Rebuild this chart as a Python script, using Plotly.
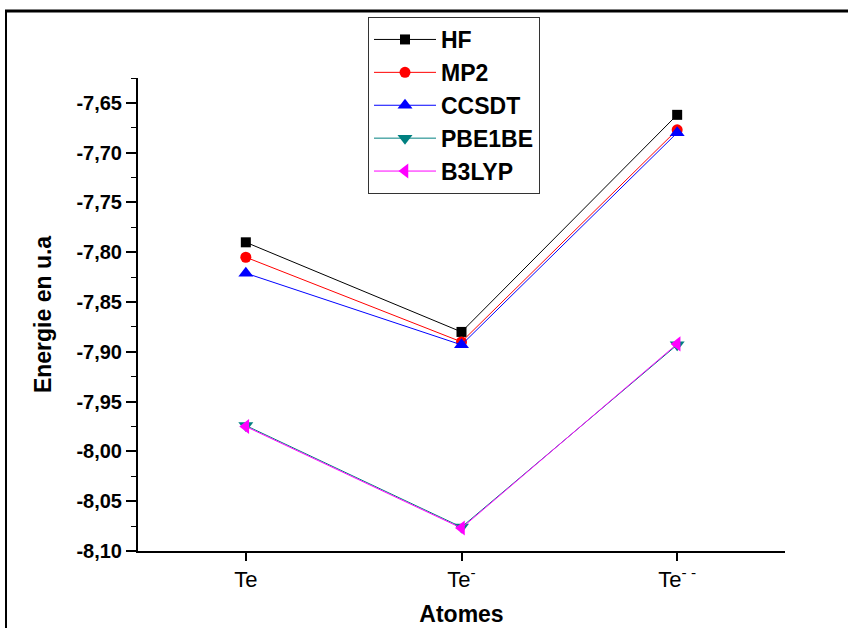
import plotly.graph_objects as go

categories = [1, 2, 3]
tick_labels = ["Te", "Te<sup>-</sup>", "Te<sup>- -</sup>"]
y_tick_vals = [-8.10, -8.05, -8.00, -7.95, -7.90, -7.85, -7.80, -7.75, -7.70, -7.65]
y_tick_labels = ["-8,10", "-8,05", "-8,00", "-7,95", "-7,90", "-7,85", "-7,80", "-7,75", "-7,70", "-7,65"]
series_names = ["HF", "MP2", "CCSDT", "PBE1BE", "B3LYP"]
hf = [-7.790, -7.880, -7.662]
mp2 = [-7.805, -7.890, -7.677]
ccsdt = [-7.821, -7.893, -7.680]
pbe1be = [-7.974, -8.076, -7.893]
b3lyp = [-7.975, -8.077, -7.892]

values = [hf, mp2, ccsdt, pbe1be, b3lyp]
colors = ["#000000", "#ff0000", "#0000ff", "#008080", "#ff00ff"]
symbols = ["square", "circle", "triangle-up", "triangle-down", "triangle-left"]
sizes = [10, 11, 13, 13, 13]

fig = go.Figure()
for name, v, c, s, sz in zip(series_names, values, colors, symbols, sizes):
    fig.add_trace(go.Scatter(
        x=categories, y=v, name=name, mode="lines+markers",
        line=dict(color=c, width=1),
        marker=dict(symbol=s, size=sz, color=c),
    ))

W, H = 848, 628
L, R, T, B = 138, 63, 78, 77
pw, ph = W - L - R, H - T - B

def px_x(px):
    return (px - L) / pw

def px_y(py):
    return (H - B - py) / ph

fig.update_layout(
    width=W, height=H,
    margin=dict(l=L, r=R, t=T, b=B, autoexpand=False),
    paper_bgcolor="white", plot_bgcolor="white",
    separators=", ",
    font=dict(family="Liberation Sans, Arial, sans-serif", color="black"),
    showlegend=True,
    legend=dict(
        x=px_x(368), y=px_y(17), xanchor="left", yanchor="top",
        bordercolor="#333333", borderwidth=1, bgcolor="white",
        font=dict(size=23, weight="bold", family="Liberation Sans, Arial, sans-serif"),
        tracegroupgap=0, itemwidth=62,
    ),
    xaxis=dict(
        range=[0.5, 3.5], tickvals=categories, ticktext=tick_labels, automargin=False,
        showgrid=False, zeroline=False, showline=True, linecolor="black", linewidth=2,
        ticks="outside", ticklen=8, tickwidth=1.5, tickcolor="black",
        tickfont=dict(size=22),
        title=dict(text="Atomes", font=dict(size=23, weight="bold"), standoff=14),
    ),
    yaxis=dict(
        range=[-8.10, -7.625], tickvals=y_tick_vals, ticktext=y_tick_labels, automargin=False,
        showgrid=False, zeroline=False, showline=True, linecolor="black", linewidth=2,
        ticks="outside", ticklen=10, tickwidth=1.5, tickcolor="black",
        tickfont=dict(size=20, weight="bold"),
        minor=dict(ticks="outside", ticklen=5, tickwidth=1, tickcolor="black", dtick=0.025, tick0=-8.10),
        title=dict(text="Energie en u.a", font=dict(size=23, weight="bold"), standoff=18),
    ),
    shapes=[
        dict(type="line", xref="paper", yref="paper", x0=px_x(5), x1=px_x(848),
             y0=px_y(11), y1=px_y(11), line=dict(color="black", width=3)),
        dict(type="line", xref="paper", yref="paper", x0=px_x(6), x1=px_x(6),
             y0=px_y(11), y1=px_y(628), line=dict(color="black", width=2)),
    ],
)

fig.write_html("out.html")
